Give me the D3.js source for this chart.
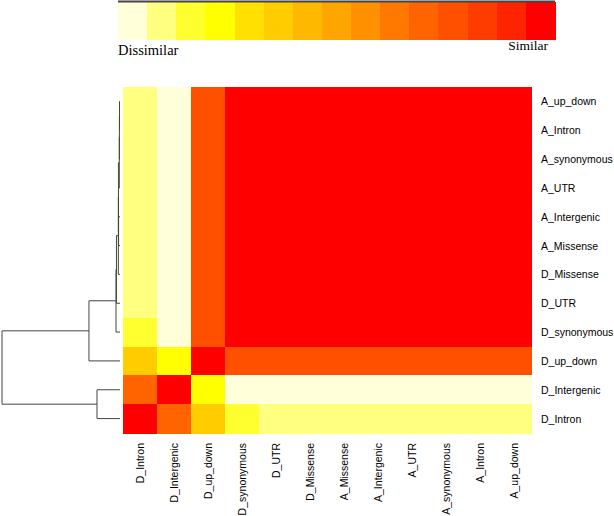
<!DOCTYPE html>
<html>
<head>
<meta charset="utf-8">
<script src="https://cdn.jsdelivr.net/npm/d3@7"></script>
<style>
  body { margin: 0; background: #fff; }
  svg text { font-family: "Liberation Sans", Arial, sans-serif; }
</style>
</head>
<body>
<div id="chart"></div>
<script>
// colour key, dissimilar -> similar
const palette = ["#FFFFDA", "#FFFF80", "#FFFF30", "#FFFF00", "#FFE000", "#FFCC00", "#FFB800",
  "#FFA500", "#FF9000", "#FF7800", "#FF6400", "#FF5000", "#FF3C00", "#FF2400", "#FF0000"];

// rows top to bottom, columns left to right
const rowNames = ["A_up_down", "A_Intron", "A_synonymous", "A_UTR", "A_Intergenic", "A_Missense",
  "D_Missense", "D_UTR", "D_synonymous", "D_up_down", "D_Intergenic", "D_Intron"];
const colNames = ["D_Intron", "D_Intergenic", "D_up_down", "D_synonymous", "D_UTR", "D_Missense",
  "A_Missense", "A_Intergenic", "A_UTR", "A_synonymous", "A_Intron", "A_up_down"];

// similarity level (index into palette) for each row
const levels = [
  [1, 0, 11, 14, 14, 14, 14, 14, 14, 14, 14, 14],
  [1, 0, 11, 14, 14, 14, 14, 14, 14, 14, 14, 14],
  [1, 0, 11, 14, 14, 14, 14, 14, 14, 14, 14, 14],
  [1, 0, 11, 14, 14, 14, 14, 14, 14, 14, 14, 14],
  [1, 0, 11, 14, 14, 14, 14, 14, 14, 14, 14, 14],
  [1, 0, 11, 14, 14, 14, 14, 14, 14, 14, 14, 14],
  [1, 0, 11, 14, 14, 14, 14, 14, 14, 14, 14, 14],
  [1, 0, 11, 14, 14, 14, 14, 14, 14, 14, 14, 14],
  [2, 0, 11, 14, 14, 14, 14, 14, 14, 14, 14, 14],
  [5, 3, 14, 11, 11, 11, 11, 11, 11, 11, 11, 11],
  [10, 14, 3, 0, 0, 0, 0, 0, 0, 0, 0, 0],
  [14, 10, 5, 2, 1, 1, 1, 1, 1, 1, 1, 1]
];

// row dendrogram, hclust style: negative = leaf (row index + 1), positive = earlier merge
const mergeA = [-1, 1, 2, -5, 3, 5, 6, 7, 8, -11, 9];
const mergeB = [-2, -3, -4, -6, 4, -7, -8, -9, -10, -12, 10];
const mergeHeight = [0.004, 0.005, 0.006, 0.012, 0.013, 0.014, 0.03, 0.034, 0.263, 0.195, 1.0];

const svg = d3.select("#chart")
  .append("svg")
  .attr("width", 614)
  .attr("height", 516);

// colour key
const key = d3.scaleBand().domain(d3.range(palette.length)).range([118, 555]);
svg.selectAll(".key")
  .data(palette)
  .enter().append("rect")
  .attr("class", "key")
  .attr("x", (d, i) => key(i))
  .attr("y", 2)
  .attr("width", key.bandwidth() + 0.5)
  .attr("height", 38)
  .attr("fill", d => d)
  .attr("shape-rendering", "crispEdges");
svg.append("line")
  .attr("x1", 118).attr("x2", 555)
  .attr("y1", 1.5).attr("y2", 1.5)
  .attr("stroke", "#444").attr("stroke-width", 2);
svg.append("text")
  .attr("x", 118).attr("y", 55)
  .style("font-family", "'Liberation Serif', 'Times New Roman', serif")
  .style("font-size", "14.5px")
  .text("Dissimilar");
svg.append("text")
  .attr("x", 548).attr("y", 50)
  .attr("text-anchor", "end")
  .style("font-family", "'Liberation Serif', 'Times New Roman', serif")
  .style("font-size", "13.5px")
  .text("Similar");

// heatmap
const x = d3.scaleBand().domain(colNames).range([123, 531]);
const y = d3.scaleBand().domain(rowNames).range([87, 433]);

const cells = [];
levels.forEach((row, i) => row.forEach((v, j) => cells.push({ r: rowNames[i], c: colNames[j], v })));

svg.selectAll(".cell")
  .data(cells)
  .enter().append("rect")
  .attr("class", "cell")
  .attr("x", d => x(d.c))
  .attr("y", d => y(d.r))
  .attr("width", x.bandwidth() + 0.5)
  .attr("height", y.bandwidth() + 0.5)
  .attr("fill", d => palette[d.v])
  .attr("shape-rendering", "crispEdges");

// row labels
svg.selectAll(".rowlab")
  .data(rowNames)
  .enter().append("text")
  .attr("class", "rowlab")
  .attr("x", 541)
  .attr("y", d => y(d) + y.bandwidth() / 2 + 4)
  .style("font-size", "10.5px")
  .text(d => d);

// column labels
svg.selectAll(".collab")
  .data(colNames)
  .enter().append("text")
  .attr("class", "collab")
  .attr("text-anchor", "end")
  .attr("transform", d => `translate(${x(d) + x.bandwidth() / 2 + 4},443) rotate(-90)`)
  .style("font-size", "10.5px")
  .text(d => d);

// dendrogram
const dx = d3.scaleLinear().domain([0, 1]).range([120, 2]);
const nodes = [];
const pos = id => id < 0
  ? { y: y(rowNames[-id - 1]) + y.bandwidth() / 2, h: 0 }
  : nodes[id - 1];
const segs = [];
mergeA.forEach((a, i) => {
  const A = pos(a), B = pos(mergeB[i]), h = mergeHeight[i];
  segs.push([dx(h), A.y, dx(h), B.y]);
  segs.push([dx(h), A.y, dx(A.h), A.y]);
  segs.push([dx(h), B.y, dx(B.h), B.y]);
  nodes.push({ y: (A.y + B.y) / 2, h });
});
svg.selectAll(".dend")
  .data(segs)
  .enter().append("line")
  .attr("class", "dend")
  .attr("x1", d => d[0]).attr("y1", d => d[1])
  .attr("x2", d => d[2]).attr("y2", d => d[3])
  .attr("stroke", "#444")
  .attr("stroke-width", 1);
</script>
</body>
</html>
